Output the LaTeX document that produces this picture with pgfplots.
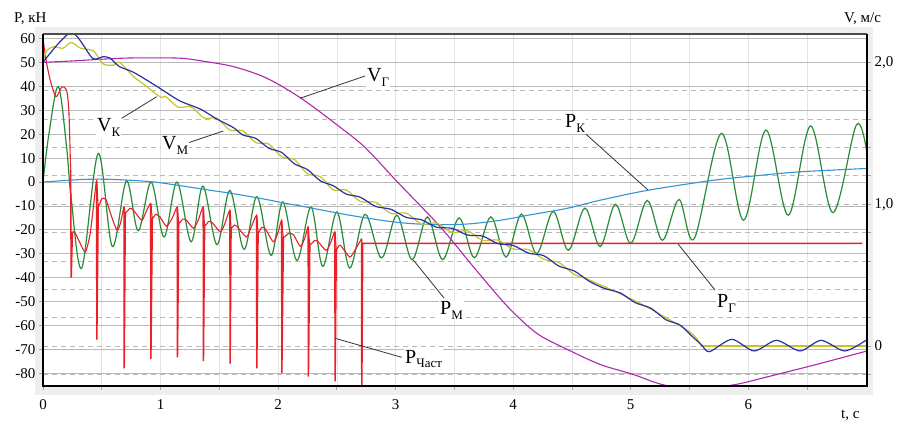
\documentclass[border=0pt]{standalone}
\usepackage{fontspec}
\setmainfont{Liberation Serif}
\usepackage{pgfplots}
\pgfplotsset{compat=1.18}
\definecolor{cred}{RGB}{232,32,40}
\definecolor{cgreen}{RGB}{40,140,55}
\definecolor{cltblue}{RGB}{50,150,210}
\definecolor{cyel}{RGB}{200,195,40}
\definecolor{cnavy}{RGB}{40,50,160}
\definecolor{cpurp}{RGB}{175,40,175}
\definecolor{bggray}{RGB}{238,238,238}
\newcommand{\sub}[1]{\raisebox{-0.5ex}{\fontsize{13}{13}\selectfont #1}}
\newcommand{\lbl}[2]{\fontsize{20}{20}\selectfont #1\sub{#2}}
\pgfplotsset{
  base/.style={at={(43pt,37pt)}, anchor=south west, scale only axis,
    width=824pt, height=352pt, xmin=0, xmax=7.01},
  Pax/.style={ymin=-85.4, ymax=62},
  Vax/.style={ymin=-0.282, ymax=2.2},
}
\begin{document}
\begin{tikzpicture}
\useasboundingbox (0,0) rectangle (904pt,423pt);
\fill[bggray] (35pt,28pt) rectangle (873pt,396pt);
% --- axis A: P scale, grids, left and bottom ticks
\begin{axis}[base,Pax,name=A,
  axis background/.style={fill=white},
  axis line style={draw=none},
  xtick={0,1,2,3,4,5,6}, xticklabels={0,1,2,3,4,5,6},
  minor xtick={0.5,1.5,2.5,3.5,4.5,5.5,6.5},
  xmajorgrids, xminorgrids,
  major x grid style={gray!22, line width=0.7pt},
  minor x grid style={gray!22, line width=0.7pt},
  ytick={-80,-70,-60,-50,-40,-30,-20,-10,0,10,20,30,40,50,60},
  yticklabels={-80,-70,-60,-50,-40,-30,-20,-10,0,10,20,30,40,50,60},
  ymajorgrids, major y grid style={gray!55, line width=0.8pt},
  xtick pos=bottom, ytick pos=left,
  tick align=outside, major tick length=4pt, minor tick length=4pt,
  tick style={gray!70, line width=0.8pt},
  tick label style={font=\fontsize{15}{15}\selectfont},
  xticklabel style={yshift=-6pt},
]
\end{axis}
% --- axis B: V scale, dashed grid, right ticks
\begin{axis}[base,Vax,
  hide x axis,
  axis line style={draw=none},
  ytick={0,1,2}, yticklabels={0,{1,0},{2,0}},
  minor ytick={-0.2,0.2,0.4,0.6,0.8,1.2,1.4,1.6,1.8},
  ymajorgrids, yminorgrids,
  major y grid style={gray!55, dash pattern=on 5pt off 4pt, line width=0.7pt},
  minor y grid style={gray!55, dash pattern=on 5pt off 4pt, line width=0.7pt},
  ytick pos=right, yticklabel pos=right,
  tick align=outside, major tick length=4pt, minor tick length=4pt,
  tick style={gray!70, line width=0.8pt},
  tick label style={font=\fontsize{15}{15}\selectfont},
  yticklabel style={anchor=west},
]
\end{axis}
% --- axis C: P data
\begin{axis}[base,Pax,hide axis]
% P_M green
\addplot[cgreen, line width=1.2pt, smooth, tension=0.55] coordinates {
(0,0) (0.05,20) (0.13,40) (0.2,15) (0.24,-7) (0.33,-36) (0.47,12) (0.59,-27)
(0.71,0.5) (0.81,-20.4) (0.92,0) (1.03,-23) (1.14,0) (1.26,-25) (1.36,-1.7)
(1.48,-26.2) (1.59,-3.5) (1.71,-28.2) (1.82,-6.1) (1.94,-30.7) (2.04,-8.3)
(2.16,-32.8) (2.28,-10.4) (2.38,-35.3) (2.50,-12.5) (2.61,-36) (2.74,-13.5)
(2.88,-31.8) (3.01,-13.9) (3.14,-32.5) (3.27,-14.6) (3.40,-32.5) (3.54,-15)
(3.67,-31.7) (3.81,-14.6) (3.94,-31.4) (4.07,-13.4) (4.20,-30) (4.34,-12.3)
(4.47,-28.6) (4.61,-10.9) (4.74,-27) (4.87,-9.3) (5.0,-25.7) (5.14,-7.7)
(5.27,-24.4) (5.41,-7.3) (5.54,-23.7) (5.77,20.4) (5.96,-16) (6.15,21.8)
(6.34,-13.9) (6.53,23.5) (6.72,-12.8) (6.92,24) (7.01,12)
};
% P_K light blue
\addplot[cltblue, line width=1.1pt, smooth, tension=0.5] coordinates {
(0,0) (0.34,1.1) (0.6,1.1) (0.91,0.2) (1.1,-1) (1.39,-3.2) (1.61,-4.8)
(1.9,-7.3) (2.07,-9) (2.19,-10) (2.61,-13.9) (3.0,-16.8) (3.3,-17.8)
(3.6,-17.6) (3.89,-16) (4.17,-13.5) (4.46,-11) (4.74,-7.6) (5.15,-3.4)
(5.71,0.8) (6.1,2.8) (6.44,4.3) (7.01,5.7)
};
% P_chast red, continuous part
\addplot[draw=cred, line width=1.1pt, smooth, tension=0.4] coordinates {
(0,60) (0.03,50) (0.06,43) (0.1,36.5) (0.12,36) (0.16,39.8) (0.2,38.6)
(0.22,30) (0.235,5)
};
\addplot[draw=cred, line width=1.1pt, smooth, tension=0.4] coordinates {
(0.25,-21) (0.27,-21) (0.31,-25) (0.36,-29.3) (0.40,-22) (0.43,-10) (0.456,0.5)
(0.47,-10) (0.5,-7) (0.535,-7.3) (0.58,-14) (0.63,-20.2) (0.66,-17) (0.689,-10.4)
(0.70,-13) (0.74,-11) (0.77,-11.8) (0.84,-16) (0.88,-12) (0.916,-9)
(0.93,-15) (0.96,-13.5) (0.995,-14.6) (1.05,-18.5) (1.10,-15) (1.142,-10.4)
(1.155,-17) (1.19,-15.5) (1.22,-16) (1.28,-19.3) (1.32,-16) (1.363,-10.4)
(1.375,-18) (1.41,-16.5) (1.44,-17) (1.51,-20.9) (1.55,-17) (1.59,-11.8)
(1.60,-19) (1.63,-18) (1.65,-18.5) (1.73,-23) (1.77,-19) (1.817,-13.9)
(1.83,-21) (1.86,-19) (1.89,-19.5) (1.96,-25) (2.0,-21) (2.03,-16)
(2.045,-23) (2.09,-21.5) (2.13,-22) (2.19,-27) (2.23,-23) (2.256,-18.8)
(2.27,-26) (2.31,-24.5) (2.34,-25) (2.41,-28.6) (2.45,-25) (2.483,-20.9)
(2.495,-28) (2.52,-26.5) (2.54,-27) (2.61,-31.4) (2.66,-28) (2.71,-23.7)
};
% spikes and the final level
\addplot[color=cred, line width=1.5pt, unbounded coords=jump] coordinates {
(0.235,5) (0.24,-40) (0.25,-21) (0.25,nan)
(0.456,0.5) (0.458,-66) (0.47,-10) (0.47,nan)
(0.689,-10.4) (0.691,-78) (0.70,-13) (0.70,nan)
(0.916,-9) (0.918,-74) (0.93,-15) (0.93,nan)
(1.142,-10.4) (1.144,-73.4) (1.155,-17) (1.155,nan)
(1.363,-10.4) (1.365,-75) (1.375,-18) (1.375,nan)
(1.59,-11.8) (1.592,-76) (1.60,-19) (1.60,nan)
(1.817,-13.9) (1.819,-78) (1.83,-21) (1.83,nan)
(2.03,-16) (2.032,-80) (2.045,-23) (2.045,nan)
(2.256,-18.8) (2.258,-81.5) (2.27,-26) (2.27,nan)
(2.483,-20.9) (2.485,-83.5) (2.495,-28) (2.495,nan)
(2.71,-23.7) (2.712,-90) (2.72,-25.7) (4.0,-25.7) (6.97,-25.7)
};
\end{axis}
% --- axis D: V data
\begin{axis}[base,Vax,hide axis]
% V_G purple
\addplot[cpurp, line width=1.1pt, smooth, tension=0.5] coordinates {
(0,2.0) (0.25,2.01) (0.7,2.03) (1.15,2.03) (1.35,2.01) (1.62,1.97) (1.9,1.89)
(2.19,1.75) (2.5,1.56) (2.74,1.40) (3.0,1.17) (3.38,0.84) (3.66,0.56)
(3.95,0.28) (4.2,0.09) (4.45,-0.02) (4.74,-0.13) (5.02,-0.2) (5.26,-0.27)
(5.55,-0.31) (5.9,-0.27) (6.15,-0.22) (6.58,-0.13) (7.01,-0.035)
};
% V_M yellow
\addplot[cyel, line width=1.2pt, smooth, tension=0.5] coordinates {
(0,2.0) (0.03,2.08) (0.09,2.11) (0.17,2.10) (0.24,2.14) (0.32,2.10) (0.43,2.08)
(0.51,1.99) (0.6,1.98) (0.65,2.0) (0.77,1.90) (0.85,1.85) (1.0,1.755)
(1.04,1.761) (1.15,1.684) (1.26,1.687) (1.37,1.608) (1.48,1.605) (1.59,1.522)
(1.70,1.518) (1.81,1.434) (1.92,1.425) (2.03,1.335) (2.14,1.314) (2.25,1.214)
(2.36,1.194) (2.47,1.10) (2.58,1.101) (2.70,1.019) (2.83,1.014) (2.96,0.934)
(3.09,0.937) (3.22,0.86) (3.35,0.867) (3.48,0.80) (3.61,0.813) (3.74,0.745)
(3.87,0.747) (4.0,0.684) (4.13,0.68) (4.26,0.612) (4.39,0.588) (4.52,0.504)
(4.65,0.465) (5.08,0.30) (5.5,0.1) (5.6,0.0)
};
\addplot[cyel, line width=1.2pt] coordinates {(5.6,0.0) (7.01,0.0)};
% V_K navy
\addplot[cnavy, line width=1.2pt, smooth, tension=0.45] coordinates {
(0,2.0) (0.24,2.21) (0.42,2.03) (0.51,2.04) (0.57,2.03) (0.65,1.97)
(0.77,1.93) (0.97,1.83) (1.16,1.73) (1.34,1.67) (1.48,1.60) (1.62,1.54)
(1.70,1.488) (1.81,1.464) (1.92,1.395) (2.03,1.365) (2.14,1.284) (2.25,1.244)
(2.36,1.164) (2.47,1.13) (2.58,1.071) (2.70,1.049) (2.83,0.984) (2.96,0.964)
(3.09,0.907) (3.22,0.89) (3.35,0.837) (3.48,0.83) (3.61,0.783) (3.74,0.775)
(3.87,0.722) (4.0,0.709) (4.13,0.655) (4.26,0.637) (4.39,0.563) (4.52,0.529)
(4.65,0.455) (4.78,0.405) (4.91,0.375) (5.04,0.305) (5.17,0.267) (5.30,0.185)
(5.42,0.148) (5.52,0.07) (5.6,0.01) (5.67,-0.04) (5.86,0.047)
(6.05,-0.035) (6.24,0.04) (6.44,-0.035) (6.62,0.04) (6.82,-0.035) (7.0,0.04)
};
\end{axis}
% frame
\draw[line width=2.2pt, black!70] (A.north west) -- (A.north east);
\draw[line width=2.8pt, line join=miter] (A.north west) -- (A.south west) -- (A.south east) -- (A.north east);
% leader lines
\begin{scope}[black!80, line width=0.8pt]
\draw (365pt,347pt) -- (300pt,324.7pt);
\draw (121.7pt,304.7pt) -- (156.7pt,326.3pt);
\draw (186.7pt,279.7pt) -- (223.3pt,292pt);
\draw (585pt,289.7pt) -- (648pt,233pt);
\draw (678.3pt,178.7pt) -- (715pt,133pt);
\draw (444pt,125pt) -- (413.3pt,163pt);
\draw (401.7pt,65.7pt) -- (335pt,84.7pt);
\end{scope}
% curve labels
\begin{scope}[every node/.style={anchor=base west, inner sep=1pt, fill=white}]
\node at (366pt,341pt) {\lbl{V}{Г}};
\node at (96pt,291pt) {\lbl{V}{К}};
\node at (161pt,273pt) {\lbl{V}{М}};
\node at (564pt,295pt) {\lbl{P}{К}};
\node at (716pt,115pt) {\lbl{P}{Г}};
\node at (439pt,108pt) {\lbl{P}{М}};
\node at (404pt,60pt) {\lbl{P}{Част}};
\end{scope}
% axis titles
\node[anchor=base west, inner sep=0pt, font=\fontsize{15}{15}\selectfont] at (14pt,400pt) {P, кН};
\node[anchor=base west, inner sep=0pt, font=\fontsize{15}{15}\selectfont] at (844pt,400pt) {V, м/с};
\node[anchor=base west, inner sep=0pt, font=\fontsize{15}{15}\selectfont] at (841pt,5pt) {t, с};
\end{tikzpicture}
\end{document}
